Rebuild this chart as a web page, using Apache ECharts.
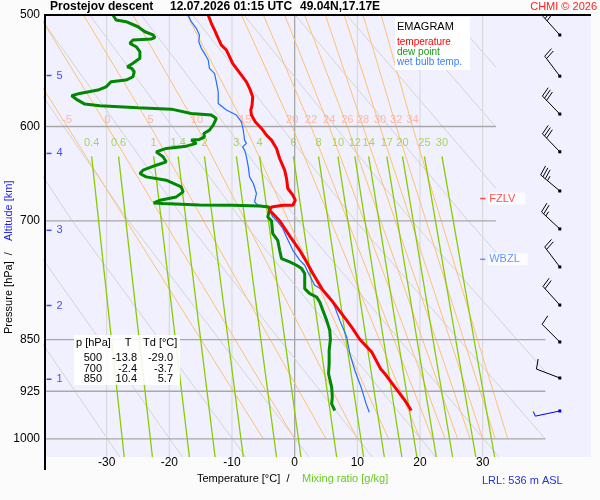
<!DOCTYPE html>
<html lang="en">
<head>
<meta charset="UTF-8">
<title>Emagram</title>
<script src="https://cdn.jsdelivr.net/npm/echarts@6/dist/echarts.min.js"></script>
<style>
    html, body { margin: 0; padding: 0; background: #fbfbfb; }
    #chart { width: 600px; height: 500px; }
</style>
</head>
<body>
<div id="chart"></div>

<script type="text/javascript">
    // sounding profiles: pressure [hPa] / temperature [°C]
    var tempP = [500,506.8,512.4,519.4,525.2,529.5,535.3,541.2,545.6,551.6,557.7,563.7,571.6,579.4,584.1,588.9,595.4,601.9,608.5,613.5,621.9,632.2,644.4,653.2,664.0,671.3,676.9,682.4,682.4,684.3,688.0,700,718.7,734.6,748.7,763.1,784.3,799.5,817.1,832.9,850,867.7,891.6,898.9,921.3,939.1,954.6];
    var tempT = [-13.8,-13.3,-12.8,-12.2,-11.7,-10.9,-10.4,-9.9,-9.3,-8.5,-7.7,-7.2,-6.7,-6.8,-7.0,-6.9,-6.3,-5.3,-4.5,-3.7,-2.9,-2.4,-1.6,-1.3,-1.1,-0.3,0.1,-0.3,-1.9,-3.7,-4.0,-2.4,-0.7,0.8,1.9,2.9,4.5,6.1,7.7,9.1,10.4,12.3,13.7,14.4,16.2,17.6,18.6];

    var dewP = [500,504.1,505.5,509.7,513.9,516.6,518.9,520.0,520.9,523.7,526.6,530.9,536.7,541.1,544.2,545.6,548.6,553.1,556.1,557.7,562.3,565.3,568.4,570.6,574.7,578.4,580.0,581.9,583.2,587.3,588.9,592.1,598.7,603.6,606.9,610.2,612.8,613.5,615.2,616.8,619.6,621.9,625.4,627.0,630.5,635.7,639.2,644.4,647.9,651.5,655.1,662.3,667.7,673.2,676.9,679.9,680.5,682.1,682.4,683.2,684.3,688.0,695.6,700,714.8,722.7,734.6,744.7,748.7,752.8,756.9,763.1,782.1,788.5,792.9,799.5,810.4,823.8,837.4,850,865.3,884.3,898.9,918.9,934.1,944.3,954.6];
    var dewT = [-29.0,-28.5,-26.9,-25.0,-23.9,-22.6,-22.3,-22.9,-25.8,-26.3,-25.3,-24.7,-24.7,-25.8,-26.7,-26.0,-25.6,-25.8,-26.9,-29.3,-30.1,-31.4,-34.3,-35.6,-34.6,-33.5,-31.1,-25.0,-19.7,-16.5,-13.3,-12.5,-13.0,-13.6,-14.5,-14.4,-15.2,-16.5,-16.8,-15.7,-17.3,-20.5,-22.1,-22.3,-21.0,-20.5,-22.1,-24.2,-24.7,-23.7,-20.5,-18.1,-17.8,-18.9,-21.5,-22.5,-21.0,-15.2,-9.9,-5.6,-4.1,-4.0,-4.3,-3.7,-3.5,-2.7,-2.4,-2.1,-0.8,0.3,1.1,1.6,1.6,2.4,3.5,4.0,4.5,5.1,5.6,5.7,5.5,5.5,5.4,5.9,6.0,5.9,6.4];

    var wetP = [500,505.5,511.0,516.6,522.3,528.0,532.4,538.2,545.6,550.1,557.7,566.9,577.8,584.1,588.9,595.4,603.6,613.5,616.8,620.3,623.7,630.5,641.0,651.5,658.6,669.4,678.7,682.4,683.5,688.0,695.6,701.3,708.9,718.7,726.5,734.6,746.6,752.8,761.1,777.9,784.3,792.9,806.0,823.8,846.6,870.0,894.1,918.9,944.3,957.3];
    var wetT = [-17.0,-16.5,-15.7,-15.2,-15.3,-14.9,-14.4,-13.8,-13.6,-12.8,-12.5,-12.2,-12.2,-10.9,-9.3,-8.5,-8.2,-8.0,-7.7,-8.3,-8.0,-7.7,-7.4,-7.2,-6.6,-6.1,-6.4,-5.9,-4.5,-4.0,-3.5,-2.7,-1.9,-1.3,-0.8,-0.3,0.8,1.6,2.1,3.2,4.5,5.6,6.4,7.2,8.3,8.8,9.6,10.6,11.4,11.9];

    // table in the lower left corner
    var tableP = [500, 700, 850];
    var tableT = [-13.8, -2.4, 10.4];
    var tableTd = [-29.0, -3.7, 5.7];

    // wind barbs (pressure, direction [deg], speed [kt]); last one is the surface wind
    var barbP = [516.6, 552.6, 587.9, 625.3, 666.7, 709.4, 754.9, 803.4, 853.4, 905.2];
    var barbDir = [318, 323, 316, 316, 310, 313, 323, 318, 315, 291];
    var barbSpd = [30, 20, 30, 30, 35, 25, 20, 20, 10, 10];
    var sfcP = [955.3];
    var sfcDir = [258];
    var sfcSpd = [5];

    // levels and altitude marks
    var fzlvP = 675, wbzlP = 745.5;
    var altKm = [1, 2, 3, 4, 5];
    var altP = [907, 804, 711, 627, 552];

    // diagram grid: isotherms, isobars
    var isoT = [-30, -20, -10, 0, 10, 20, 30];
    var isobarP = [600, 700, 850, 925, 1000];
    var isobarEnd = [32.1, 32.1, 40, 40, 40];
    var pressTicks = [500, 600, 700, 850, 925, 1000];

    // dry adiabats, read as T at the listed pressures
    var dryT = [[-73.7,-53.6,-27.9],[-65.5,-44.5,-17.9],[-57.3,-35.5,-7.8],[-49.1,-26.5,2.3],[-40.9,-17.4,12.4],
                [-32.7,-8.4,22.5],[-24.5,0.6,32.6],[-16.3,9.7,40],[-8.1,18.7,40],[0.1,27.7,32.1],
                [8.3,32.1],[16.6,32.1],[24.8,32.1]];
    var dryP = [[500,700,1030],[500,700,1030],[500,700,1030],[500,700,1030],[500,700,1030],
                [500,700,1030],[500,700,1030],[500,700,1000],[500,700,895.8],[500,700,736.6],
                [500,663.9],[500,600.4],[500,544.5]];

    // saturated adiabats: label, T at 1000, 600 and 500 hPa
    var moistLab = [-5, 0, 5, 10, 15, 20, 22, 24, 26, 28, 30, 32, 34];
    var moistT600 = [-36.3,-29.9,-23.0,-15.6,-7.9,-0.4,2.6,5.5,8.4,10.9,13.6,16.2,18.8];
    var moistT500 = [-47.5,-40.8,-33.7,-25.8,-17.2,-8.5,-5.0,-1.6,1.6,4.9,7.9,10.9,13.8];

    // mixing ratio lines [g/kg]: T at 630 and 1030 hPa
    var mixLab = ['0.4','0.6','1','1.4','2','3','4','6','8','10','12','14','17','20','25','30'];
    var mixTopT = [-32.4,-28.1,-22.5,-18.6,-14.4,-9.3,-5.6,-0.2,3.8,6.9,9.6,11.8,14.7,17.2,20.7,23.5];
    var mixBotT = [-27.2,-22.7,-16.8,-12.7,-8.2,-2.9,1.0,6.7,11.0,14.3,17.1,19.5,22.6,25.2,28.9,31.9];

    var FONT = "'Liberation Sans', Arial, sans-serif";

    function zip(ts, ps) {
        return ts.map(function (t, i) { return [t, ps[i]]; });
    }

    var dryLines = dryT.map(function (ts, i) { return { coords: zip(ts, dryP[i]) }; });
    var moistLines = moistLab.map(function (v, i) {
        return { coords: [[v, 1000], [moistT600[i], 600], [moistT500[i], 500]] };
    });
    var mixLines = mixTopT.map(function (t, i) { return { coords: [[t, 630], [mixBotT[i], 1030]] }; });
    var isoLines = isoT.filter(function (t) { return t !== 0; })
        .map(function (t) { return { coords: [[t, 500], [t, 1030]] }; });
    var isobarLines = isobarP.map(function (p, i) { return { coords: [[-40, p], [isobarEnd[i], p]] }; });

    function gridLines(data, color, width, z) {
        return {
            type: 'lines', coordinateSystem: 'cartesian2d', polyline: true, silent: true,
            clip: true, z: z, data: data,
            lineStyle: { color: color, width: width, opacity: 1 }
        };
    }

    function textLabels(data, color, size, z) {
        return {
            type: 'scatter', symbolSize: 1, silent: true, z: z, data: data,
            itemStyle: { color: 'rgba(0,0,0,0)' },
            label: {
                show: true, position: 'inside', color: color, fontSize: size, fontFamily: FONT,
                formatter: function (p) { return p.data[2]; }
            }
        };
    }

    function drawBarb(api, color) {
        var pt = api.coord([api.value(0), api.value(1)]);
        var a = api.value(2) * Math.PI / 180, spd = api.value(3);
        var ux = Math.sin(a), uy = -Math.cos(a);
        var px = -uy, py = ux;
        var L = 25;
        var tip = [pt[0] + ux * L, pt[1] + uy * L];
        var st = { stroke: color, lineWidth: 1 };
        var ch = [
            { type: 'line', shape: { x1: pt[0], y1: pt[1], x2: tip[0], y2: tip[1] }, style: st },
            { type: 'rect', shape: { x: pt[0] - 1.5, y: pt[1] - 1.5, width: 3, height: 3 }, style: { fill: color } }
        ];
        var full = Math.floor(spd / 10), half = (spd % 10) >= 5 ? 1 : 0;
        var d = 0;
        for (var i = 0; i < full; i++) {
            var bx = tip[0] - ux * d, by = tip[1] - uy * d;
            ch.push({ type: 'line', shape: { x1: bx, y1: by, x2: bx + px * 10 + ux * 2, y2: by + py * 10 + uy * 2 }, style: st });
            d += 3;
        }
        if (half) {
            var hx = tip[0] - ux * d, hy = tip[1] - uy * d;
            ch.push({ type: 'line', shape: { x1: hx, y1: hy, x2: hx + px * 5 + ux, y2: hy + py * 5 + uy }, style: st });
        }
        return { type: 'group', children: ch };
    }

    var barbX = 42.3;

    var dom = document.getElementById('chart');
    var myChart = echarts.init(dom, null, { renderer: 'canvas' });

    var g = [];
    function txt(x, y, s, color, size, extra) {
        var o = { type: 'text', x: x, y: y, z: 100, silent: true,
            style: { text: s, fill: color, font: (size || 11) + 'px ' + FONT, textVerticalAlign: 'middle' } };
        if (extra) { for (var k in extra) o.style[k] = extra[k]; }
        g.push(o);
    }

    // title line
    var bold = { font: 'bold 12px ' + FONT };
    txt(50, 7, 'Prostejov', '#000', 12, bold);
    txt(108, 7, 'descent', '#000', 12, bold);
    txt(170, 7, '12.07.2026 01:15 UTC', '#000', 12, bold);
    txt(300, 7, '49.04N,17.17E', '#000', 12, bold);
    txt(597, 7, 'CHMI \u00a9 2026', '#ff2020', 11, { textAlign: 'right' });

    // borders
    g.push({ type: 'line', z: 90, silent: true, shape: { x1: 45, y1: 15, x2: 45, y2: 470 }, style: { stroke: '#000', lineWidth: 2 } });
    g.push({ type: 'line', z: 90, silent: true, shape: { x1: 44, y1: 15, x2: 591, y2: 15 }, style: { stroke: '#000', lineWidth: 2 } });

    // legend box
    g.push({ type: 'rect', z: 95, silent: true, shape: { x: 395, y: 17, width: 75, height: 53 }, style: { fill: '#ffffff' } });
    txt(397, 27, 'EMAGRAM', '#000', 11);
    txt(397, 42, 'temperature', '#ff0000', 10);
    txt(397, 52, 'dew point', '#1a9a1a', 10);
    txt(397, 62, 'wet bulb temp.', '#3a7dff', 10);

    // table box
    g.push({ type: 'rect', z: 95, silent: true, shape: { x: 74, y: 335, width: 106, height: 50 }, style: { fill: 'rgba(255,255,255,0.88)' } });
    txt(76, 343, 'p [hPa]', '#000', 11);
    txt(128, 343, 'T', '#000', 11, { textAlign: 'center' });
    txt(143, 343, 'Td [\u00b0C]', '#000', 11);
    tableP.forEach(function (p, i) {
        var y = 358 + i * 10.5;
        txt(102, y, String(p), '#000', 11, { textAlign: 'right' });
        txt(137, y, tableT[i].toFixed(1), '#000', 11, { textAlign: 'right' });
        txt(173, y, tableTd[i].toFixed(1), '#000', 11, { textAlign: 'right' });
    });

    // axis titles
    txt(197, 479, 'Temperature [\u00b0C]  /', '#000', 11);
    txt(302, 479, 'Mixing ratio [g/kg]', '#66cc22', 11);
    txt(482, 481, 'LRL: 536 m ASL', '#2233dd', 11);
    txt(9, 334, 'Pressure [hPa]  /', '#000', 11, { textAlign: 'left' });
    g[g.length - 1].rotation = Math.PI / 2;
    txt(9, 241, 'Altitude [km]', '#2222ee', 11, { textAlign: 'left' });
    g[g.length - 1].rotation = Math.PI / 2;

    var option = {
        animation: false,
        backgroundColor: '#fbfbfb',
        grid: { left: 44, top: 15, width: 547, height: 442, show: true, backgroundColor: '#f0f0fe', borderWidth: 0 },
        xAxis: {
            type: 'value', min: -40, max: 47.28, interval: 10,
            axisLine: { show: false }, axisTick: { show: false }, splitLine: { show: false },
            axisLabel: {
                color: '#000', fontSize: 12, fontFamily: FONT, margin: 0,
                formatter: function (v) { return (v >= -30 && v <= 30) ? String(v) : ''; }
            }
        },
        yAxis: {
            type: 'log', logBase: 10, min: 500, max: 1030, inverse: true,
            axisLine: { show: false }, axisTick: { show: false }, splitLine: { show: false },
            axisLabel: {
                color: '#000', fontSize: 12, fontFamily: FONT, margin: 4, customValues: pressTicks,
                formatter: function (v) { return String(Math.round(v)); }
            }
        },
        graphic: g,
        series: [
            gridLines(isoLines, '#d6d6d6', 1, 1),
            gridLines([{ coords: [[0, 500], [0, 1030]] }], '#a0a0a0', 1.2, 1),
            gridLines(dryLines, '#d4d4d4', 1, 2),
            gridLines(moistLines, '#ffc172', 1, 3),
            gridLines(isobarLines, '#a8a8a8', 1.3, 4),
            gridLines(mixLines, '#88cc00', 1.3, 5),
            textLabels(moistLab.map(function (v, i) { return [moistT600[i], 594, String(v)]; }), '#ffa98f', 11, 6),
            textLabels(mixLab.map(function (v, i) { return [mixTopT[i], 616.5, v]; }), '#99cc33', 11, 6),
            {
                type: 'line', name: 'wet bulb temp.', data: zip(wetT, wetP), showSymbol: false, silent: true, z: 10,
                lineStyle: { color: '#1e6eff', width: 1.2 }
            },
            {
                type: 'line', name: 'dew point', data: zip(dewT, dewP), showSymbol: false, silent: true, z: 11,
                lineStyle: { color: '#008800', width: 3 }
            },
            {
                type: 'line', name: 'temperature', data: zip(tempT, tempP), showSymbol: false, silent: true, z: 12,
                lineStyle: { color: '#ff0000', width: 3 }
            },
            {
                type: 'scatter', silent: true, z: 13, symbol: 'rect', symbolSize: [5, 1.5],
                itemStyle: { color: '#2222ee' },
                data: altKm.map(function (k, i) { return [-39.2, altP[i], k]; }),
                label: { show: true, position: 'right', distance: 5, color: '#2222ee', fontSize: 11, fontFamily: FONT,
                    formatter: function (p) { return String(p.data[2]); } }
            },
            {
                type: 'scatter', silent: true, z: 13, symbol: 'rect', symbolSize: [5, 1.5],
                itemStyle: { color: '#ff2020' },
                data: [[30.0, fzlvP, 'FZLV']],
                label: { show: true, position: 'right', distance: 3, color: '#ff2020', fontSize: 11, fontFamily: FONT,
                    backgroundColor: '#ffffff', padding: [1, 10, 0, 1],
                    formatter: function (p) { return p.data[2]; } }
            },
            {
                type: 'scatter', silent: true, z: 13, symbol: 'rect', symbolSize: [5, 1.5],
                itemStyle: { color: '#3a7dff' },
                data: [[30.0, wbzlP, 'WBZL']],
                label: { show: true, position: 'right', distance: 3, color: '#3a7dff', fontSize: 11, fontFamily: FONT,
                    backgroundColor: '#ffffff', padding: [1, 8, 0, 1],
                    formatter: function (p) { return p.data[2]; } }
            },
            {
                type: 'custom', silent: true, z: 14, clip: true,
                data: barbP.map(function (p, i) { return [barbX, p, barbDir[i], barbSpd[i]]; }),
                renderItem: function (params, api) { return drawBarb(api, '#000000'); }
            },
            {
                type: 'custom', silent: true, z: 14, clip: true,
                data: sfcP.map(function (p, i) { return [barbX, p, sfcDir[i], sfcSpd[i]]; }),
                renderItem: function (params, api) { return drawBarb(api, '#0000ee'); }
            }
        ]
    };

    myChart.setOption(option);
    window.addEventListener('resize', myChart.resize);
</script>
</body>
</html>
